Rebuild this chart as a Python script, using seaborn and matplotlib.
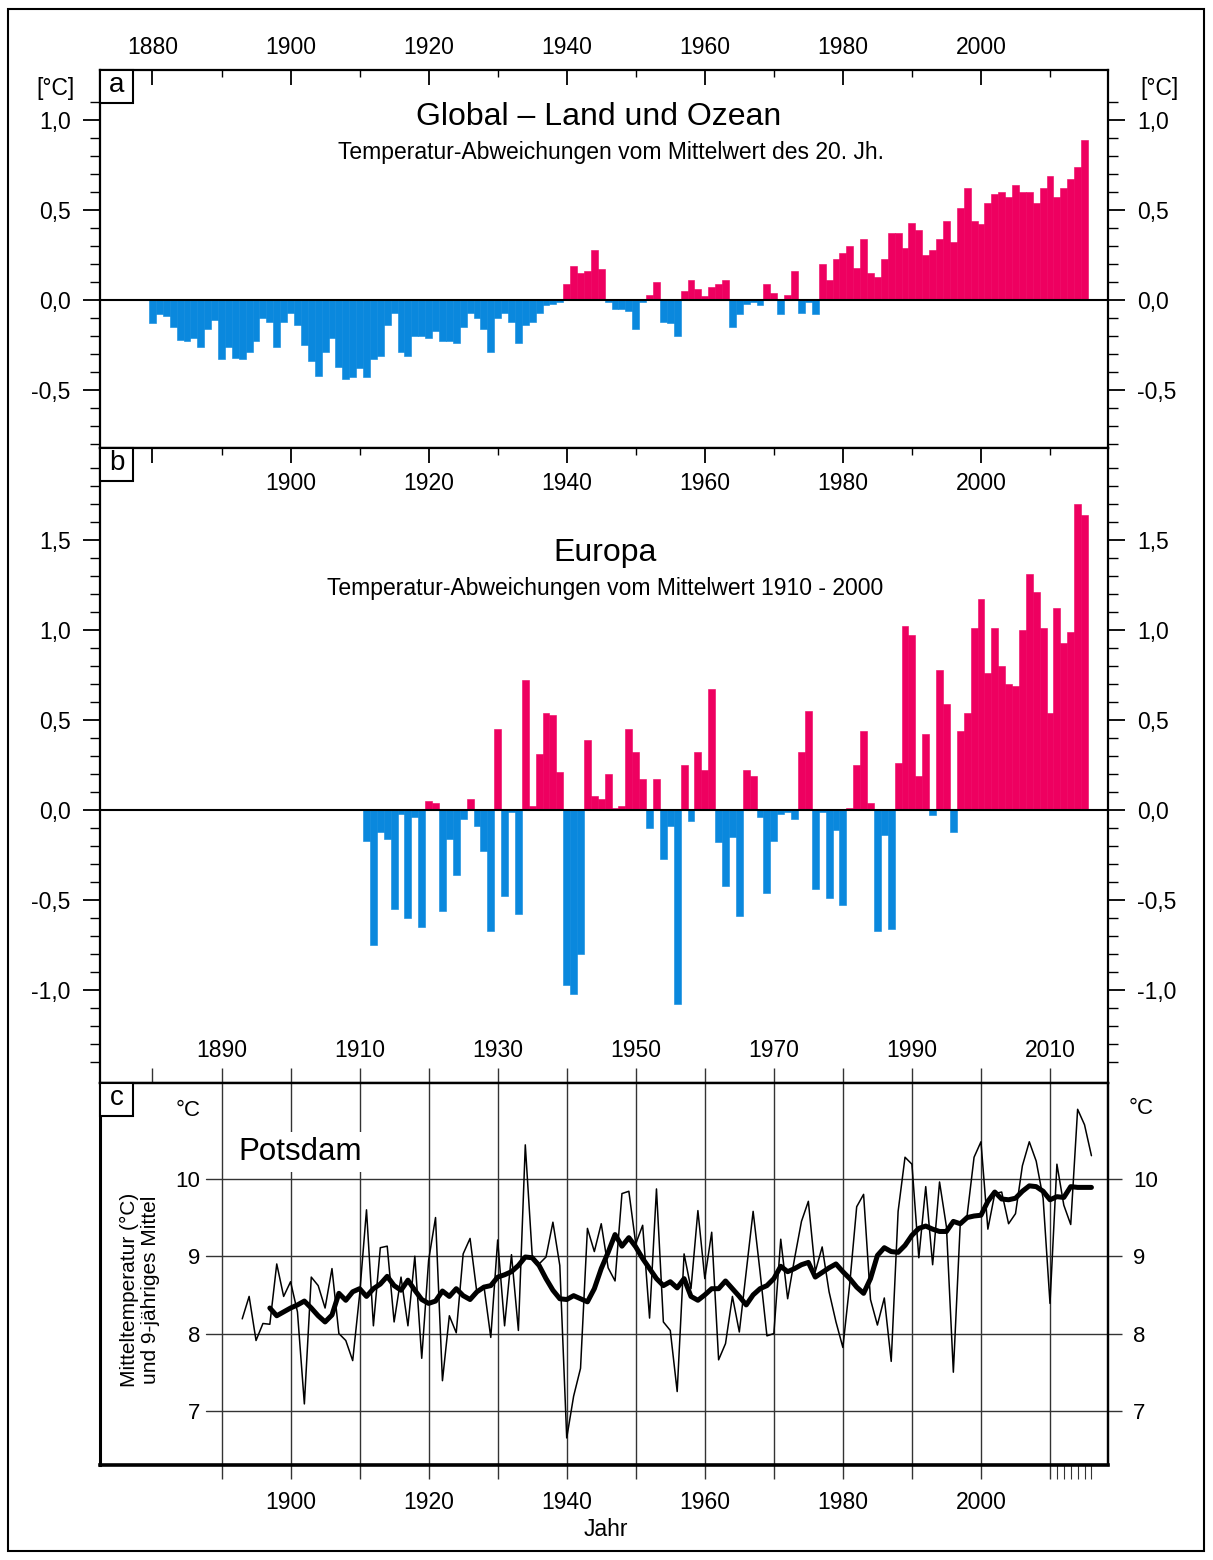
import numpy as np
import matplotlib
matplotlib.use('Agg')
import matplotlib.pyplot as plt
from matplotlib.patches import Rectangle
from matplotlib.ticker import MultipleLocator, FixedLocator, FuncFormatter
import pandas as pd
import seaborn as sns

# Global - Land und Ozean, Abweichung vom Mittel des 20. Jh., 1880-2015
global_years = np.arange(1880, 2016)
global_anom = [
    -0.13, -0.08, -0.09, -0.15, -0.22, -0.23, -0.21, -0.26, -0.16, -0.11,
    -0.33, -0.26, -0.32, -0.33, -0.29, -0.23, -0.10, -0.12, -0.26, -0.12,
    -0.07, -0.14, -0.25, -0.34, -0.42, -0.29, -0.21, -0.37, -0.44, -0.43,
    -0.38, -0.43, -0.33, -0.31, -0.14, -0.07, -0.29, -0.31, -0.20, -0.20,
    -0.21, -0.17, -0.23, -0.23, -0.24, -0.15, -0.07, -0.10, -0.16, -0.29,
    -0.10, -0.07, -0.12, -0.24, -0.14, -0.12, -0.07, -0.03, -0.02, -0.01,
    0.09, 0.19, 0.15, 0.16, 0.28, 0.17, -0.01, -0.05, -0.05, -0.06,
    -0.16, -0.01, 0.03, 0.10, -0.12, -0.13, -0.20, 0.05, 0.11, 0.06,
    0.02, 0.07, 0.09, 0.11, -0.15, -0.08, -0.02, -0.01, -0.03, 0.09,
    0.04, -0.08, 0.03, 0.16, -0.07, -0.01, -0.08, 0.20, 0.11, 0.23,
    0.26, 0.30, 0.18, 0.34, 0.15, 0.13, 0.23, 0.37, 0.37, 0.29,
    0.43, 0.39, 0.25, 0.28, 0.34, 0.44, 0.32, 0.51, 0.62, 0.44,
    0.42, 0.54, 0.59, 0.60, 0.57, 0.64, 0.60, 0.60, 0.54, 0.62,
    0.69, 0.57, 0.62, 0.67, 0.74, 0.89,
]

# Europa, Abweichung vom Mittel 1910-2000, 1911-2015
europe_years = np.arange(1911, 2016)
europe_anom = [
    -0.17, -0.75, -0.12, -0.16, -0.55, -0.02, -0.60, -0.04, -0.65,
    0.05, 0.04, -0.56, -0.16, -0.36, -0.05, 0.06, -0.09, -0.23, -0.67,
    0.45, -0.48, -0.01, -0.58, 0.72, 0.02, 0.31, 0.54, 0.53, 0.21,
    -0.97, -1.02, -0.80, 0.39, 0.08, 0.06, 0.20, 0.01, 0.02, 0.45,
    0.32, 0.17, -0.10, 0.17, -0.27, -0.09, -1.08, 0.25, -0.06, 0.32,
    0.22, 0.67, -0.18, -0.42, -0.15, -0.59, 0.22, 0.19, -0.04, -0.46,
    -0.17, -0.02, -0.01, -0.05, 0.32, 0.55, -0.44, -0.01, -0.49, -0.11,
    -0.53, 0.01, 0.25, 0.44, 0.04, -0.67, -0.14, -0.66, 0.26, 1.02,
    0.97, 0.19, 0.42, -0.03, 0.78, 0.59, -0.12, 0.44, 0.54, 1.01,
    1.17, 0.76, 1.01, 0.80, 0.70, 0.69, 1.00, 1.31, 1.21, 1.01,
    0.54, 1.12, 0.93, 0.99, 1.70, 1.64,
]

# Potsdam Jahresmittel 1893-2016
potsdam_years = np.arange(1893, 2017)
potsdam_temp = [
    8.19, 8.48, 7.91, 8.13, 8.12, 8.90, 8.48,
    8.67, 8.28, 7.09, 8.73, 8.62, 8.33, 8.84, 8.00, 7.91, 7.65,
    8.50, 9.60, 8.10, 9.11, 9.13, 8.15, 8.73, 8.10, 9.00, 7.68,
    8.95, 9.50, 7.39, 8.23, 8.01, 9.03, 9.23, 8.52, 8.62, 7.95,
    9.21, 8.10, 9.02, 8.04, 10.44, 9.01, 8.90, 8.99, 9.44, 8.88,
    6.65, 7.19, 7.55, 9.36, 9.06, 9.42, 8.85, 8.68, 9.81, 9.84,
    9.16, 9.40, 8.20, 9.87, 8.15, 8.04, 7.25, 9.03, 8.58, 9.59,
    8.71, 9.31, 7.66, 7.87, 8.48, 8.02, 8.80, 9.58, 8.80, 7.97,
    8.00, 9.22, 8.45, 8.97, 9.45, 9.71, 8.80, 9.12, 8.54, 8.15,
    7.82, 8.65, 9.64, 9.80, 8.44, 8.11, 8.46, 7.64, 9.58, 10.28,
    10.19, 8.98, 9.90, 8.89, 9.96, 9.38, 7.50, 9.42, 9.53, 10.28,
    10.48, 9.35, 9.81, 9.83, 9.42, 9.55, 10.17, 10.48, 10.23, 9.75,
    8.39, 10.19, 9.66, 9.41, 10.90, 10.70, 10.30,
]

# 9-jaehriges Mittel 1897-2016
mean_years = np.arange(1897, 2017)
mean_temp = [
    8.33, 8.23, 8.28,
    8.33, 8.37, 8.42, 8.33, 8.23, 8.15, 8.24, 8.52, 8.43, 8.54,
    8.58, 8.48, 8.58, 8.64, 8.74, 8.62, 8.56, 8.69, 8.56, 8.44,
    8.39, 8.42, 8.55, 8.48, 8.58, 8.49, 8.44, 8.54, 8.60, 8.62,
    8.73, 8.76, 8.80, 8.88, 8.99, 8.98, 8.88, 8.71, 8.56, 8.45,
    8.44, 8.49, 8.45, 8.41, 8.58, 8.84, 9.05, 9.28, 9.13, 9.24,
    9.12, 8.97, 8.84, 8.71, 8.62, 8.67, 8.59, 8.71, 8.48, 8.43,
    8.50, 8.58, 8.58, 8.68, 8.58, 8.48, 8.37, 8.50, 8.58, 8.62,
    8.71, 8.87, 8.80, 8.84, 8.89, 8.92, 8.73, 8.79, 8.85, 8.90,
    8.80, 8.71, 8.60, 8.52, 8.71, 9.01, 9.11, 9.06, 9.05, 9.14,
    9.27, 9.36, 9.39, 9.35, 9.32, 9.32, 9.45, 9.42, 9.50, 9.52,
    9.53, 9.71, 9.83, 9.74, 9.73, 9.75, 9.84, 9.91, 9.90, 9.84,
    9.73, 9.77, 9.76, 9.90, 9.89, 9.89, 9.89,
]

RED = '#EE0060'
BLUE = '#0A88DD'
XMIN, XMAX = 1872.4, 2018.4

sns.set_theme(style='white')
plt.rcParams['font.family'] = ['Liberation Sans', 'DejaVu Sans']
plt.rcParams['text.color'] = 'black'
plt.rcParams['axes.edgecolor'] = 'black'
plt.rcParams['xtick.color'] = 'black'
plt.rcParams['ytick.color'] = 'black'
plt.rcParams['xtick.labelcolor'] = 'black'
plt.rcParams['ytick.labelcolor'] = 'black'

W, H = 1213, 1560
fig = plt.figure(figsize=(W / 100, H / 100), dpi=100)


def box(x0, y0, x1, y1):
    # pixel box (from top left) -> figure fraction
    return [x0 / W, 1 - y1 / H, (x1 - x0) / W, (y1 - y0) / H]


def ftext(x, y, s, **kw):
    fig.text(x / W, 1 - y / H, s, **kw)


ax_a = fig.add_axes(box(100, 70, 1108, 448))
ax_b = fig.add_axes(box(100, 448, 1108, 1083))
ax_c = fig.add_axes(box(100, 1083, 1108, 1465))


def comma(v, pos):
    return f'{round(v, 1) + 0.0:.1f}'.replace('.', ',')


def bars(ax, years, vals):
    df = pd.DataFrame({'Jahr': years, 'T': vals})
    df['sign'] = np.where(df['T'] >= 0, 'pos', 'neg')
    sns.barplot(data=df, x='Jahr', y='T', hue='sign', palette={'pos': RED, 'neg': BLUE},
                native_scale=True, width=1, dodge=False, saturation=1, errorbar=None,
                legend=False, orient='x', linewidth=0, ax=ax)
    for p in ax.patches:
        p.set_edgecolor(p.get_facecolor())
        p.set_linewidth(0.4)
    ax.axhline(0, color='black', lw=1.5, zorder=3)
    ax.set_xlabel('')
    ax.set_ylabel('')


bars(ax_a, global_years, global_anom)
bars(ax_b, europe_years, europe_anom)

for ax, lim, majors, minors in (
        (ax_a, (-0.822, 1.278), [-0.5, 0, 0.5, 1.0], np.arange(-0.8, 1.15, 0.1)),
        (ax_b, (-1.517, 2.011), [-1.0, -0.5, 0, 0.5, 1.0, 1.5], np.arange(-1.4, 1.95, 0.1))):
    ax.set_xlim(XMIN, XMAX)
    ax.set_ylim(*lim)
    ax.yaxis.set_major_locator(FixedLocator(majors))
    ax.yaxis.set_minor_locator(FixedLocator(minors))
    ax.yaxis.set_major_formatter(FuncFormatter(comma))
    ax.tick_params(axis='y', which='both', left=True, right=True, labelleft=True,
                   labelright=True, direction='out', labelsize=16.5, pad=9)
    ax.tick_params(axis='y', which='major', length=12, width=1.3)
    ax.tick_params(axis='y', which='minor', length=7, width=1)
    ax.xaxis.set_major_locator(MultipleLocator(20))
    ax.xaxis.set_minor_locator(MultipleLocator(10))
    for s in ax.spines.values():
        s.set_linewidth(1.6)

ax_a.xaxis.set_major_formatter(FuncFormatter(lambda v, p: f'{v:.0f}'))
ax_a.tick_params(axis='x', which='both', top=True, bottom=False, labeltop=True,
                 labelbottom=False, direction='in', labelsize=16.5, pad=8)
ax_a.tick_params(axis='x', which='major', length=11, width=1.3)
ax_a.tick_params(axis='x', which='minor', length=5, width=1)

ax_b.xaxis.set_major_formatter(FuncFormatter(lambda v, p: '' if v < 1890 else f'{v:.0f}'))
ax_b.tick_params(axis='x', which='both', top=True, bottom=False, labeltop=True,
                 labelbottom=False, direction='in', labelsize=16.5, pad=-34)
ax_b.tick_params(axis='x', which='major', length=11, width=1.3)
ax_b.tick_params(axis='x', which='minor', length=5, width=1)

# Titles
ftext(599, 117, 'Global – Land und Ozean', size=23, ha='center', va='center')
ftext(611, 153, 'Temperatur-Abweichungen vom Mittelwert des 20. Jh.', size=16.5,
      ha='center', va='center')
ftext(605, 553, 'Europa', size=23, ha='center', va='center')
ftext(605, 589, 'Temperatur-Abweichungen vom Mittelwert 1910 - 2000', size=16.5,
      ha='center', va='center')
ftext(55, 88, '[°C]', size=16.5, ha='center', va='center')
ftext(1160, 88, '[°C]', size=16.5, ha='center', va='center')

# Panel c: Potsdam
grid_c = '#333333'
ax_c.set_xlim(XMIN, XMAX)
ax_c.set_ylim(6.30, 11.24)
for yr in range(1890, 2011, 10):
    ax_c.axvline(yr, color=grid_c, lw=1, zorder=1)
for t in (7, 8, 9, 10):
    ax_c.axhline(t, xmin=0.105, xmax=1, color=grid_c, lw=1, zorder=1)
sns.lineplot(x=potsdam_years, y=potsdam_temp, color='black', lw=1.1, ax=ax_c, zorder=3)
sns.lineplot(x=mean_years, y=mean_temp, color='black', lw=3.6, ax=ax_c, zorder=4)
ax_c.set_xlabel('')
ax_c.set_ylabel('')

ax_c.xaxis.set_major_locator(FixedLocator(list(range(1890, 2011, 10))))
ax_c.xaxis.set_minor_locator(FixedLocator(list(range(2011, 2017))))
ax_c.xaxis.set_major_formatter(FuncFormatter(lambda v, p: f'{v:.0f}' if int(v) % 20 == 0 else ''))
ax_c.tick_params(axis='x', which='both', bottom=True, top=False, direction='out',
                 length=10, width=1, color=grid_c, labelsize=16.5, pad=9)
ax_c.tick_params(axis='x', which='minor', width=0.8)

ax_c.yaxis.set_major_locator(FixedLocator([7, 8, 9, 10]))
ax_c.tick_params(axis='y', left=False, right=False, length=0, labelsize=16,
                 labelleft=True, pad=-72)

sec_top = ax_c.secondary_xaxis('top')
sec_top.xaxis.set_major_locator(FixedLocator(list(range(1880, 2011, 10))))
sec_top.xaxis.set_major_formatter(FuncFormatter(lambda v, p: f'{v:.0f}' if int(v) % 20 == 10 else ''))
sec_top.tick_params(axis='x', direction='out', length=11, width=1, color=grid_c,
                    labelsize=16.5, pad=4)

sec_right = ax_c.secondary_yaxis('right')
sec_right.yaxis.set_major_locator(FixedLocator([7, 8, 9, 10]))
sec_right.tick_params(axis='y', direction='out', length=10, width=1, color=grid_c,
                      labelsize=16, pad=8)

for s in ax_c.spines.values():
    s.set_linewidth(1.6)
ax_c.spines['bottom'].set_linewidth(2.6)
ax_c.spines['left'].set_linewidth(2.2)
for s in list(sec_top.spines.values()) + list(sec_right.spines.values()):
    s.set_linewidth(1.6)

ftext(188, 1110, '°C', size=16, ha='center', va='center')
ftext(1141, 1108, '°C', size=16, ha='center', va='center')
ftext(300, 1152, 'Potsdam', size=22.5, ha='center', va='center', zorder=6,
      bbox=dict(boxstyle='square,pad=0.15', fc='white', ec='none'))
ftext(140, 1290, 'Mitteltemperatur (°C)\nund 9-jähriges Mittel', size=15,
      rotation=90, ha='center', va='center', multialignment='center', linespacing=1.15)
ftext(606, 1530, 'Jahr', size=16.5, ha='center', va='center')

# panel letters
for letter, ytop in (('a', 70), ('b', 448), ('c', 1083)):
    fig.add_artist(Rectangle((100 / W, 1 - (ytop + 33) / H), 33 / W, 33 / H,
                             transform=fig.transFigure, fc='white', ec='black', lw=1.5, zorder=5))
    ftext(116.5, ytop + 15, letter, size=20, ha='center', va='center', zorder=6)

# outer frame
fig.add_artist(Rectangle((8 / W, 1 - 1551 / H), 1196 / W, 1542 / H,
                         transform=fig.transFigure, fill=False, ec='black', lw=1.5))

fig.savefig('out.png', dpi=100, facecolor='white')
